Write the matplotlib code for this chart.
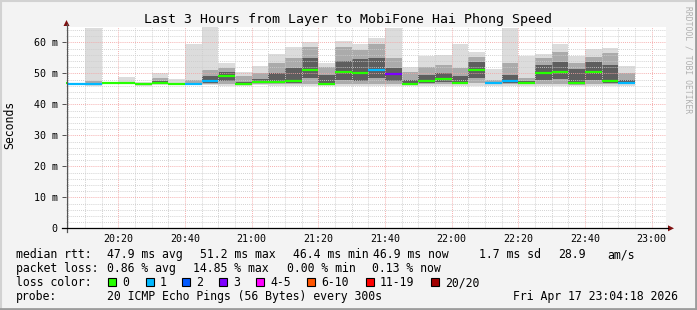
import numpy as np
import matplotlib
matplotlib.use('Agg')
import matplotlib.pyplot as plt
from matplotlib.ticker import MultipleLocator, FuncFormatter
from matplotlib.patches import Rectangle, Polygon
from matplotlib.lines import Line2D

W, H = 697, 310
MONO = 'DejaVu Sans Mono'

# 5-minute steps, minutes after 20:00 at which each step ends
t_end = np.arange(5, 180, 5)

median_ms = [46.8, 46.4, 46.4, 46.8, 46.8, 46.4, 46.9, 46.6, 46.6, 47.6,
             49.1, 46.6, 47.1, 47.1, 47.6, 51.2, 46.6, 50.4, 50.2, 51.1,
             49.9, 46.5, 47.5, 48.2, 46.9, 51.1, 46.9, 47.6, 46.9, 50.2,
             50.5, 46.9, 50.5, 47.6, 46.9]
loss = [0, 1, 1, 0, 0, 0, 0, 0, 1, 1,
        0, 0, 0, 0, 0, 0, 0, 0, 0, 1,
        3, 0, 0, 0, 0, 0, 1, 1, 0, 0,
        0, 0, 0, 0, 1]
# smoke: spread of the 20 pings in each step
ping_lo = [46.6, 46.2, 46.0, 46.5, 46.4, 46.0, 46.3, 46.2, 46.1, 46.1,
           46.0, 46.0, 46.1, 46.0, 46.0, 46.0, 45.9, 45.9, 46.0, 45.9,
           45.8, 45.9, 45.9, 46.0, 46.0, 46.0, 46.0, 46.0, 46.0, 45.9,
           45.9, 45.9, 46.0, 46.0, 46.0]
ping_p10 = [46.7, 46.3, 46.1, 46.6, 46.6, 46.1, 46.5, 46.4, 46.3, 46.5,
            46.4, 46.3, 46.5, 46.5, 46.5, 46.6, 46.2, 46.4, 46.5, 46.6,
            46.4, 46.2, 46.5, 46.6, 46.4, 46.8, 46.4, 46.5, 46.4, 46.6,
            46.6, 46.3, 46.6, 46.5, 46.4]
ping_q1 = [46.8, 46.4, 46.2, 46.7, 46.7, 46.3, 46.7, 46.5, 46.5, 47.0,
           47.5, 46.5, 46.8, 46.8, 47.0, 48.5, 46.4, 47.8, 47.6, 48.5,
           47.5, 46.4, 46.9, 47.3, 46.7, 48.5, 46.7, 47.0, 46.7, 48.0,
           48.2, 46.6, 48.0, 47.0, 46.7]
ping_q3 = [46.8, 46.4, 46.8, 46.9, 47.0, 46.6, 47.6, 46.8, 47.0, 49.0,
           50.5, 47.3, 48.2, 50.0, 51.7, 55.0, 49.4, 54.0, 54.5, 55.0,
           51.7, 48.0, 49.5, 50.0, 49.0, 53.5, 47.2, 49.4, 47.4, 52.7,
           53.7, 51.5, 53.5, 52.7, 47.8]
ping_p90 = [46.8, 46.4, 47.5, 47.0, 47.3, 46.8, 48.5, 47.0, 47.8, 51.0,
            51.8, 49.0, 50.0, 53.2, 54.9, 58.5, 52.1, 58.5, 57.5, 59.5,
            55.0, 50.3, 52.1, 52.7, 51.7, 55.4, 47.8, 53.3, 48.5, 54.8,
            57.0, 53.2, 55.4, 56.4, 50.0]
ping_hi = [46.8, 46.4, 64.5, 47.3, 48.9, 47.2, 50.2, 48.1, 59.4, 64.8,
           53.2, 50.5, 52.3, 56.1, 58.4, 60.1, 53.4, 60.4, 59.4, 61.5,
           64.7, 51.9, 55.6, 56.0, 59.4, 56.8, 51.4, 64.5, 55.6, 56.1,
           59.4, 55.7, 57.9, 58.1, 52.4]

loss_labels = ['0', '1', '2', '3', '4-5', '6-10', '11-19', '20/20']
loss_colors = ['#26ff00', '#00b8ff', '#0059ff', '#7e00ff', '#ff00ff',
               '#ff5500', '#ff0000', '#a10000']

title = 'Last 3 Hours from Layer to MobiFone Hai Phong Speed'


def fx(x):
    return x / W


def fy(y):
    return 1 - y / H


fig = plt.figure(figsize=(W / 100, H / 100), dpi=100, facecolor='#f3f3f3')
ax = fig.add_axes([fx(66), fy(228.3), 600 / W, 201.5 / H])
ax.set_xlim(4.3, 184.3)
ax.set_ylim(0, 65)

edges = np.append(t_end - 5, t_end[-1])


def ext(a):
    return np.append(a, a[-1])


bands = [(ping_lo, ping_hi, '#dcdcdc'),
         (ping_p10, ping_p90, '#ababab'),
         (ping_q1, ping_q3, '#5e5e5e')]
for lo, hi, c in bands:
    ax.fill_between(edges, ext(np.array(lo)), ext(np.array(hi)),
                    step='post', color=c, lw=0, zorder=1)

ax.hlines(median_ms, t_end - 5, t_end, colors=[loss_colors[l] for l in loss],
          lw=1.6, zorder=4)

# grid
ax.xaxis.set_major_locator(MultipleLocator(20))
ax.xaxis.set_minor_locator(MultipleLocator(5))
ax.yaxis.set_major_locator(MultipleLocator(10))
ax.yaxis.set_minor_locator(MultipleLocator(2))
ax.xaxis.set_major_formatter(FuncFormatter(
    lambda v, p: f'{20 + int(v) // 60}:{int(v) % 60:02d}'))
ax.yaxis.set_major_formatter(FuncFormatter(
    lambda v, p: '0' if v == 0 else f'{int(v)} m'))
ax.set_axisbelow(False)
ax.grid(which='minor', color='#cccccc', ls=(0, (1, 1.3)), lw=0.65)
ax.grid(which='major', color='#f4a4a4', ls=(0, (1, 1.3)), lw=0.65)
ax.tick_params(axis='x', which='both', length=0, pad=4, labelsize=7.2)
ax.tick_params(axis='y', which='major', length=3, width=0.72, color='#555555',
               pad=3, labelsize=7.2)
ax.tick_params(axis='y', which='minor', length=0)
for lab in ax.get_xticklabels() + ax.get_yticklabels():
    lab.set_fontfamily(MONO)
for s in ax.spines.values():
    s.set_visible(False)
ax.set_facecolor('white')

# axis lines and arrows
fig.add_artist(Line2D([fx(66.5), fx(66.5)], [fy(232), fy(24)], color='#555555', lw=0.9))
fig.add_artist(Line2D([fx(62), fx(668)], [fy(228.3), fy(228.3)], color='black', lw=0.9))
fig.add_artist(Polygon([(fx(63.5), fy(26)), (fx(69.5), fy(26)), (fx(66.5), fy(20))],
                       closed=True, color='#7f1010', lw=0))
fig.add_artist(Polygon([(fx(668), fy(225.3)), (fx(668), fy(231.3)), (fx(674), fy(228.3))],
                       closed=True, color='#7f1010', lw=0))

# frame
fig.add_artist(Line2D([0, 1], [fy(1), fy(1)], color='#d2d2d2', lw=1.5))
fig.add_artist(Line2D([fx(1), fx(1)], [0, 1], color='#d2d2d2', lw=1.5))
fig.add_artist(Line2D([fx(696), fx(696)], [0, 1], color='#9c9c9c', lw=2))
fig.add_artist(Line2D([0, 1], [fy(309), fy(309)], color='#9c9c9c', lw=2))

fig.text(fx(348), fy(19), title, ha='center', va='center', fontsize=9.5, family=MONO)
fig.text(fx(10), fy(125), 'Seconds', rotation=90, ha='center', va='center',
         fontsize=8.3, family=MONO)
fig.text(fx(688), fy(60), 'RRDTOOL / TOBI OETIKER', rotation=270, ha='center',
         va='center', fontsize=5.8, family=MONO, color='#b0b0b0')

# legend block
fs = 8.3
rows = [
    (258, [(16, 'median rtt:'), (107, '47.9 ms avg'), (200, '51.2 ms max'),
           (293, '46.4 ms min'), (373, '46.9 ms now'), (479, '1.7 ms sd'),
           (558, '28.9'), (607, 'am/s')]),
    (272, [(16, 'packet loss:'), (107, '0.86 % avg'), (193, '14.85 % max'),
           (287, '0.00 % min'), (372, '0.13 % now')]),
    (300, [(16, 'probe:'), (107, '20 ICMP Echo Pings (56 Bytes) every 300s'),
           (513, 'Fri Apr 17 23:04:18 2026')]),
]
for yb, chunks in rows:
    for x, s in chunks:
        fig.text(fx(x), fy(yb), s, ha='left', va='baseline', fontsize=fs, family=MONO)

fig.text(fx(16), fy(286), 'loss color:', ha='left', va='baseline', fontsize=fs, family=MONO)
box_x = [108, 146, 182, 219, 256, 307, 366, 431]
for bx, lab, c in zip(box_x, loss_labels, loss_colors):
    fig.add_artist(Rectangle((fx(bx), fy(286)), 8 / W, 8 / H, facecolor=c,
                             edgecolor='black', lw=0.8))
    fig.text(fx(bx + 14), fy(286), lab, ha='left', va='baseline', fontsize=fs, family=MONO)

fig.savefig('out.png', dpi=100, facecolor=fig.get_facecolor())
